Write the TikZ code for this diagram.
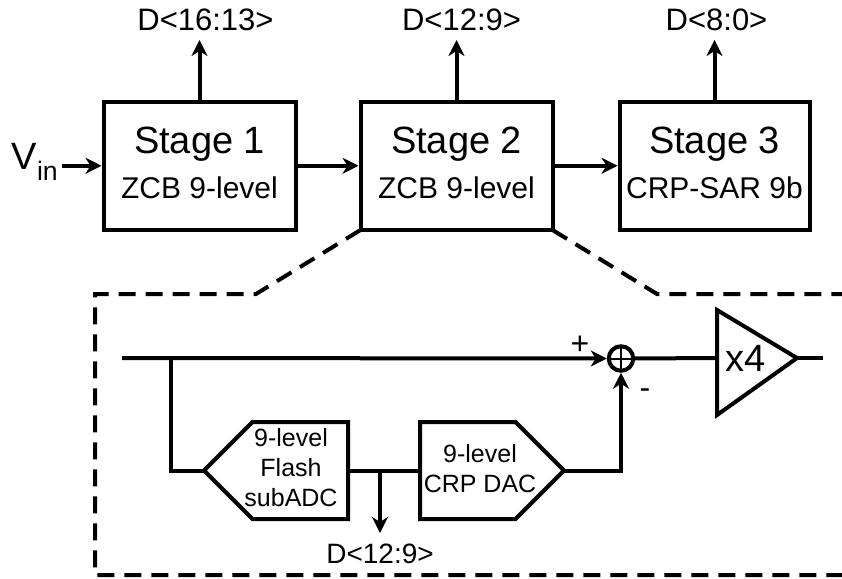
\documentclass[tikz,border=0pt]{standalone}
\usepackage{fontspec}
\setmainfont{Liberation Sans}
\usetikzlibrary{positioning, arrows.meta, shapes.symbols}

\begin{document}
\begin{tikzpicture}[
        x=1pt, y=-1pt,
        stagebox/.style={
            rectangle,
            draw,
            line width=4pt,
            outer sep=0pt,
            inner sep=0pt,
            minimum width=192pt,
            minimum height=128.5pt,
            align=center,
            text depth=5.5pt,
            font=\fontsize{30}{45}\selectfont
        },
        blockbox/.style={
            signal,
            draw,
            line width=4pt,
            outer sep=0pt,
            inner sep=0pt,
            signal pointer angle=90,
            signal from=nowhere,
            minimum width=144pt,
            minimum height=97pt
        },
        blocktext/.style={
            inner sep=0pt,
            align=center,
            font=\fontsize{25}{30}\selectfont
        },
        busname/.style={
            font=\fontsize{31}{36}\selectfont,
            inner sep=0pt
        },
        flecha/.style={
            -{Stealth[length=16pt, width=16pt, inset=5pt]},
            line width=4pt,
            shorten >=2pt
        },
        wire/.style={
            line width=4pt
        },
        zoomline/.style={
            line width=4pt,
            dash pattern=on 17pt off 10pt
        }
    ]
    \useasboundingbox (0,0) rectangle (842,578);

    \node[stagebox] at (199.5,165.75) (stage1) {{\fontsize{38}{45}\selectfont Stage 1}\\ZCB 9-level};
    \node[stagebox, right=65pt of stage1] (stage2) {{\fontsize{38}{45}\selectfont Stage 2}\\ZCB 9-level};
    \node[stagebox, right=67pt of stage2, minimum width=190pt] (stage3) {{\fontsize{38}{45}\selectfont Stage 3}\\CRP-SAR 9b};

    \coordinate[above=61.5pt of stage1] (tip1);
    \coordinate[above=61.5pt of stage2] (tip2);
    \coordinate[above=61.5pt of stage3] (tip3);
    \node[busname, above=9pt of tip1, xshift=6pt] (bus1) {D<16:13>};
    \node[busname, above=9pt of tip2, xshift=5pt] (bus2) {D<12:9>};
    \node[busname, above=9pt of tip3, xshift=2pt] (bus3) {D<8:0>};

    \node[inner sep=0pt, font=\fontsize{38}{44}\selectfont] at (35,162) (vin) {V\textsubscript{in}};
    \coordinate (vinout) at (62,165.75);

    \draw[flecha] (vinout) -- (stage1.west);
    \draw[flecha] (stage1) -- (stage2);
    \draw[flecha] (stage2) -- (stage3);
    \draw[flecha, shorten >=0pt] (stage1.north) -- (tip1);
    \draw[flecha, shorten >=0pt] (stage2.north) -- (tip2);
    \draw[flecha, shorten >=0pt] (stage3.north) -- (tip3);

    % zoomed view of stage 2
    \coordinate (zoomleft) at (95,294);
    \coordinate (zoomright) at (657,294);
    \draw[zoomline] (stage2.south west) -- (256,294) -- (zoomleft) -- (95,575) -- (842,575);
    \draw[zoomline] (stage2.south east) -- (zoomright) -- (842,294);

    \coordinate (input) at (122,358);
    \coordinate (branch) at (171,358);
    \node[circle, draw, line width=4pt, outer sep=0pt, inner sep=0pt, minimum size=24.5pt,
        path picture={
            \draw[line width=2pt] (path picture bounding box.north) -- (path picture bounding box.south);
            \draw[line width=2pt] (path picture bounding box.west) -- (path picture bounding box.east);
        }] at (621,358.5) (adder) {};

    \coordinate (ampin) at (717,358);
    \coordinate (amptop) at (717,310);
    \coordinate (ampbot) at (717,415);
    \coordinate (amptip) at (797,358);
    \coordinate (output) at (823,358);
    \draw[wire] (amptop) -- (amptip) -- (ampbot) -- cycle;
    \node[inner sep=0pt, font=\fontsize{38}{44}\selectfont] at (746,358) (gain) {x4};

    \node[blockbox, signal to=west, anchor=west] at (204,470.5) (flash) {};
    \node[blockbox, signal to=east, anchor=east] at (564,470.5) (dac) {};
    \node[blocktext] at (291,468) (flashtext) {9-level\\Flash\\subADC};
    \node[blocktext] at (480,469) (dactext) {9-level\\CRP DAC};
    \coordinate (tap) at (380,471);
    \coordinate (tapend) at (380,533);
    \node[busname, font=\fontsize{28}{32}\selectfont] at (380,554) (bus4) {D<12:9>};

    \node[inner sep=0pt, font=\fontsize{32}{36}\selectfont] at (580,345) (plus) {+};
    \node[inner sep=0pt, font=\fontsize{32}{36}\selectfont] at (645,394) (minus) {-};

    \draw[flecha] (input) -- (adder.west);
    \draw[wire] (branch) |- (flash.west);
    \draw[wire] (flash.east) -- (dac.west);
    \draw[flecha, shorten >=0pt] (tap) -- (tapend);
    \draw[flecha] (dac.east) -| (adder.south);
    \draw[wire] (adder.east) -- (ampin);
    \draw[wire] (amptip) -- (output);

\end{tikzpicture}
\end{document}
